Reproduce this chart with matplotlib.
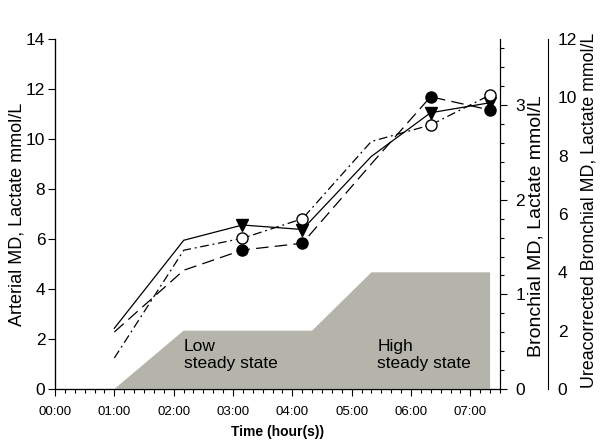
import numpy as np
import matplotlib
matplotlib.use("Agg")
import matplotlib.pyplot as plt
from matplotlib.ticker import MultipleLocator, FixedLocator, FuncFormatter

plt.rcParams['font.family'] = ['Liberation Sans', 'DejaVu Sans']

# time in hours
t = [1.0, 2.17, 3.16, 4.17, 5.33, 6.33, 7.33]
marked = [2, 3, 5, 6]   # points that carry a marker

# values (mmol/L)
tri_solid = [2.43, 5.95, 6.56, 6.38, 9.3, 11.05, 11.45]
dot_dashed = [2.28, 4.75, 5.56, 5.83, 9.0, 11.69, 11.16]
open_dashdot = [1.24, 5.55, 6.03, 6.81, 9.9, 10.56, 11.76]

# protocol shading (ureacorrected axis units)
shade_t = [1.0, 2.167, 4.333, 5.333, 7.333, 7.333]
shade_y = [0, 2, 2, 4, 4, 0]

fig = plt.figure(figsize=(6, 4.45), dpi=100)
ax = fig.add_axes([55/600, 1-389/445, 445/600, 350/445])
ax2 = ax.twinx()
ax3 = ax.twinx()

ax3.fill(shade_t, shade_y, color='#b4b4aa', lw=0, zorder=1)
ax3.text(2.17, 1.70, "Low\nsteady state", fontsize=12.5, va='top', ha='left', linespacing=1.15)
ax3.text(5.43, 1.72, "High\nsteady state", fontsize=12.5, va='top', ha='left', linespacing=1.15)

def pts(vals):
    return [t[i] for i in marked], [vals[i] for i in marked]

ax.plot(t, tri_solid, '-', color='black', lw=0.9)
ax.plot(*pts(tri_solid), 'v', color='black', ms=8, ls='none')
ax.plot(t, dot_dashed, color='black', lw=0.9, dashes=(10, 5))
ax.plot(*pts(dot_dashed), 'o', color='black', ms=8, ls='none')
ax.plot(t, open_dashdot, color='black', lw=0.9, dashes=(7, 3, 1.5, 3))
ax.plot(*pts(open_dashdot), 'o', mfc='white', mec='black', mew=1, ms=8, ls='none')

ax.set_xlim(0, 7.5)
ax.set_ylim(0, 14)
ax.xaxis.set_major_locator(MultipleLocator(1))
ax.xaxis.set_minor_locator(MultipleLocator(1/6))
ax.xaxis.set_major_formatter(FuncFormatter(lambda v, p: "%02d:00" % int(round(v))))
ax.set_yticks(range(0, 15, 2))
ax.tick_params(axis='x', labelsize=9.5, length=5, width=0.8, pad=7)
ax.tick_params(axis='x', which='minor', length=3, width=0.8)
ax.tick_params(axis='y', labelsize=12.5, length=5, width=0.8, pad=2)
ax.set_xlabel("Time (hour(s))", fontsize=10, fontweight='bold', labelpad=5)
ax.set_ylabel("Arterial MD, Lactate mmol/L", fontsize=13)
ax.yaxis.set_label_coords(-0.066, 0.5)
ax.spines['top'].set_visible(False)

ax2.set_ylim(0, 3.7)
ax2.set_yticks([0, 1, 2, 3])
ax2.yaxis.set_minor_locator(MultipleLocator(0.2))
ax2.tick_params(axis='y', labelsize=12.5, length=5, width=0.8, pad=6)
ax2.tick_params(axis='y', which='minor', length=3, width=0.8)
ax2.set_ylabel("Bronchial MD, Lactate mmol/L", fontsize=14)
ax2.yaxis.set_label_coords(1.061, 0.464)
ax2.spines['top'].set_visible(False)

ax3.set_ylim(0, 12)
ax3.spines['right'].set_position(('axes', 1.108))
ax3.spines['top'].set_visible(False)
ax3.set_yticks(range(0, 13, 2))
ax3.yaxis.set_minor_locator(FixedLocator([0, 12]))
ax3.tick_params(axis='y', labelsize=12.5, length=0, pad=7)
ax3.tick_params(axis='y', which='minor', length=4, width=0.8)
ax3.set_ylabel("Ureacorrected Bronchial MD, Lactate mmol/L", fontsize=12.8)
ax3.yaxis.set_label_coords(1.182, 0.511)

for a in (ax, ax2, ax3):
    for s in a.spines.values():
        s.set_linewidth(0.8)

fig.savefig("out.png", dpi=100)
